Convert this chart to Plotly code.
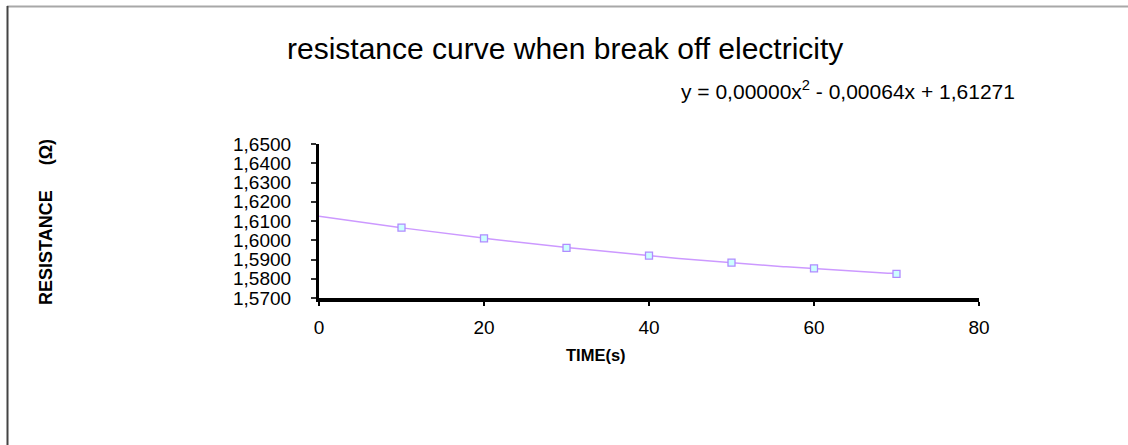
import numpy as np
import plotly.graph_objects as go

time_s = [10, 20, 30, 40, 50, 60, 70]
resistance = [1.6066, 1.6010, 1.5960, 1.5920, 1.5884, 1.5854, 1.5825]
y_ticks = [1.57, 1.58, 1.59, 1.60, 1.61, 1.62, 1.63, 1.64, 1.65]
x_ticks = [0, 20, 40, 60, 80]
title_text = "resistance curve when break off electricity"
equation_text = "y = 0,00000x<sup>2</sup> - 0,00064x + 1,61271"
x_title = "TIME(s)"
y_title = "RESISTANCE" + "\u00a0" * 5 + "(Ω)"

W, H = 1128, 445
L, R, T, B = 319, 979, 144, 298

coef = np.polyfit(time_s, resistance, 2)
xf = np.linspace(0, max(time_s), 200)
yf = np.polyval(coef, xf)

fig = go.Figure()
fig.add_trace(go.Scatter(x=xf, y=yf, mode="lines",
                         line=dict(color="#CC99FF", width=1.5),
                         hoverinfo="skip", showlegend=False))
fig.add_trace(go.Scatter(x=time_s, y=resistance, mode="markers",
                         marker=dict(symbol="square", size=7, color="#CCFFFF",
                                     line=dict(color="#B08CFF", width=1.3)),
                         showlegend=False))

def px_x(p):
    return (p - L) / (R - L)

def px_y(p):
    return (B - p) / (B - T)

font = "Liberation Sans, Arial, sans-serif"

tick_annotations = [
    dict(text=f"{v:.4f}".replace(".", ","), x=px_x(293), y=v, xref="paper", yref="y",
         showarrow=False, xanchor="right", yanchor="middle",
         font=dict(size=19, family=font, color="black"))
    for v in y_ticks
]

fig.update_layout(
    width=W, height=H,
    margin=dict(l=L, r=W - R, t=T, b=H - B, pad=0),
    paper_bgcolor="white", plot_bgcolor="white",
    separators=",.",
    font=dict(family=font, color="black", size=19),
    xaxis=dict(range=[0, 80], tickvals=x_ticks, showgrid=False, zeroline=False,
               showline=True, linecolor="black", linewidth=4,
               ticks="outside", ticklen=4, tickwidth=2, tickcolor="black",
               tickfont=dict(size=19), ticklabelstandoff=5, fixedrange=True),
    yaxis=dict(range=[1.57, 1.65], tickvals=y_ticks, showticklabels=False,
               showgrid=False, zeroline=False,
               showline=True, linecolor="black", linewidth=3,
               ticks="outside", ticklen=5, tickwidth=2, tickcolor="#333333",
               fixedrange=True),
    annotations=tick_annotations + [
        dict(text=title_text, x=px_x(565), y=px_y(48), xref="paper", yref="paper",
             showarrow=False, font=dict(size=30, family=font), xanchor="center", yanchor="middle"),
        dict(text=equation_text, x=px_x(848), y=px_y(90), xref="paper", yref="paper",
             showarrow=False, font=dict(size=21, family=font), xanchor="center", yanchor="middle"),
        dict(text="<b>" + x_title + "</b>", x=px_x(596), y=px_y(355), xref="paper", yref="paper",
             showarrow=False, font=dict(size=16.5, family=font), xanchor="center", yanchor="middle"),
        dict(text="<b>" + y_title + "</b>", x=px_x(46), y=px_y(222), xref="paper", yref="paper",
             showarrow=False, textangle=-90, font=dict(size=18, family=font),
             xanchor="center", yanchor="middle"),
    ],
    shapes=[
        dict(type="line", xref="paper", yref="paper", x0=px_x(7), x1=px_x(1128),
             y0=px_y(6.5), y1=px_y(6.5), line=dict(color="#A8A8A8", width=2)),
        dict(type="line", xref="paper", yref="paper", x0=px_x(7.5), x1=px_x(7.5),
             y0=px_y(6), y1=px_y(445), line=dict(color="#444444", width=2)),
    ],
)

fig.write_html("out.html", config={"displayModeBar": False},
               post_script="document.body.style.margin='0';")
